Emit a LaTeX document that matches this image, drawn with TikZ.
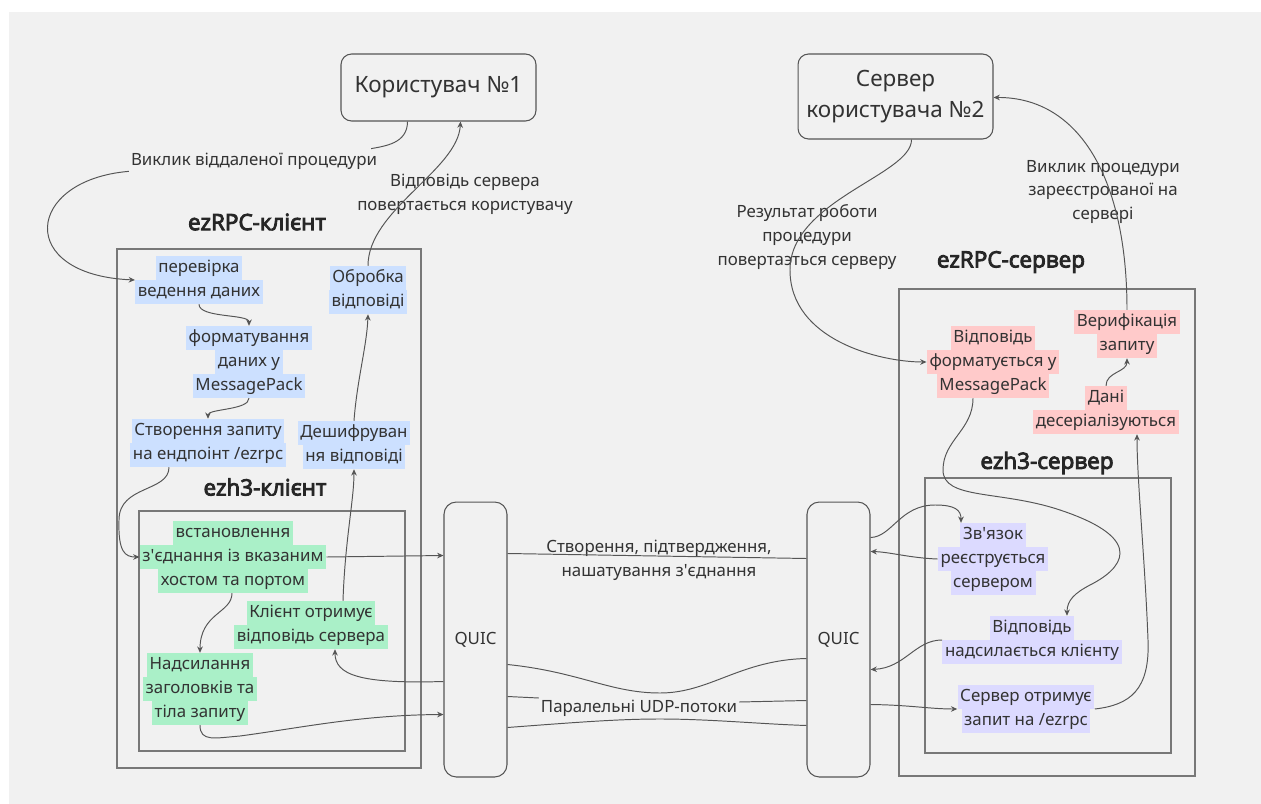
\documentclass[tikz,border=0pt]{standalone}
\usepackage{fontspec}
\setmainfont{Noto Sans}[Ligatures=TeXOff]
\newfontfamily\titlefont{Open Sans}[AutoFakeBold=4]
\usepackage{tikz}
\usetikzlibrary{arrows.meta,calc}
\usetikzlibrary{positioning}

\definecolor{bgGray}{HTML}{F1F1F1}
\definecolor{inkGray}{HTML}{333333}
\definecolor{lineGray}{HTML}{555555}
\definecolor{frameGray}{HTML}{787878}
\definecolor{cliBlue}{HTML}{CCE0FF}
\definecolor{cliGreen}{HTML}{AAF0C8}
\definecolor{srvRed}{HTML}{FFCACA}
\definecolor{srvViolet}{HTML}{DCDAFF}

\setlength{\fboxsep}{0pt}
\newcommand{\hlline}[2]{\colorbox{#1}{\strut\hspace{1.5pt}#2\hspace{1.5pt}}}
\newcommand{\hb}[1]{\hlline{cliBlue}{#1}}
\newcommand{\hg}[1]{\hlline{cliGreen}{#1}}
\newcommand{\hr}[1]{\hlline{srvRed}{#1}}
\newcommand{\hv}[1]{\hlline{srvViolet}{#1}}

\begin{document}
\begin{tikzpicture}[x=0.02cm,y=-0.02cm,>={Stealth[length=3.6pt,width=3.2pt]},
  flow/.style={draw=lineGray,line width=0.55pt},
  stepnode/.style={inner sep=0pt,align=center,text=inkGray,font=\fontsize{9.6}{13.6}\selectfont},
  edgelabel/.style={inner sep=1pt,align=center,text=inkGray,font=\fontsize{9.6}{13.6}\selectfont},
  grouptitle/.style={inner sep=0pt,text=black!85,font=\titlefont\fontsize{12.8}{15}\selectfont\bfseries},
  groupframe/.style={draw=frameGray,line width=0.8pt},
  actor/.style={draw=lineGray,line width=0.6pt,rounded corners=6pt,fill=bgGray,align=center,
    text=inkGray,minimum width=3.9cm,font=\fontsize{12.8}{17.5}\selectfont},
  transport/.style={draw=lineGray,line width=0.6pt,rounded corners=7pt,fill=bgGray,
    minimum width=1.26cm,minimum height=5.5cm,text=inkGray,font=\fontsize{9.6}{13.6}\selectfont}]

  \fill[white] (0,0) rectangle (1261,804);
  \useasboundingbox (0,0) rectangle (1261,804);
  \fill[bgGray] (9,12) rectangle (1261,804);

  % groups
  \draw[groupframe] (117,249) rectangle (421,768);
  \draw[groupframe] (139,511) rectangle (405,751);
  \draw[groupframe] (899,289) rectangle (1195,776);
  \draw[groupframe] (925,478) rectangle (1171,753);
  \node[grouptitle] (cliTitle) at (257,222) {ezRPC-клієнт};
  \node[grouptitle] (h3cTitle) at (265,487) {ezh3-клієнт};
  \node[grouptitle] (srvTitle) at (1011,262) {ezRPC-сервер};
  \node[grouptitle] (h3sTitle) at (1047,463) {ezh3-сервер};

  % actors and transport
  \node[actor,minimum height=1.34cm] (user) at (438.5,87.5) {Користувач №1};
  \node[actor,minimum height=1.7cm] (srv2) at (895.5,96.5) {Сервер\\користувача №2};
  \node[transport] (quicL) at (475.5,639.5) {QUIC};
  \node[transport] (quicR) at (838.5,639.5) {QUIC};

  % client steps
  \node[stepnode] (chk) at (199,280) {\hb{перевірка}\\\hb{ведення даних}};
  \node[stepnode] (fmt) at (249,362) {\hb{форматування}\\\hb{даних у}\\\hb{MessagePack}};
  \node[stepnode] (req) at (208,443) {\hb{Створення запиту}\\\hb{на ендпоінт /ezrpc}};
  \node[stepnode] (proc) at (368,290) {\hb{Обробка}\\\hb{відповіді}};
  \node[stepnode] (decr) at (354,445) {\hb{Дешифруван}\\\hb{ня відповіді}};
  \node[stepnode] (conn) at (233,557) {\hg{встановлення}\\\hg{з'єднання із вказаним}\\\hg{хостом та портом}};
  \node[stepnode] (recv) at (311,625) {\hg{Клієнт отримує}\\\hg{відповідь сервера}};
  \node[stepnode] (send) at (200,689) {\hg{Надсилання}\\\hg{заголовків та}\\\hg{тіла запиту}};

  % server steps
  \node[stepnode] (packR) at (993,362) {\hr{Відповідь}\\\hr{форматується у}\\\hr{MessagePack}};
  \node[stepnode] (verif) at (1127,334) {\hr{Верифікація}\\\hr{запиту}};
  \node[stepnode] (deser) at (1106,410) {\hr{Дані}\\\hr{десеріалізуються}};
  \node[stepnode] (reg) at (993,559) {\hv{Зв'язок}\\\hv{реєструється}\\\hv{сервером}};
  \node[stepnode] (reply) at (1032,640) {\hv{Відповідь}\\\hv{надсилається клієнту}};
  \node[stepnode] (getReq) at (1026,709) {\hv{Сервер отримує}\\\hv{запит на /ezrpc}};

  % edge labels
  \node[edgelabel] (callLbl) at (254,161) {Виклик віддаленої процедури};
  \node[edgelabel] (backLbl) at (465,194) {Відповідь сервера\\повертається користувачу};
  \node[edgelabel] (resLbl) at (807,237) {Результат роботи\\процедури\\повертаэться серверу};
  \node[edgelabel] (invLbl) at (1103,192) {Виклик процедури\\зареєстрованої на\\сервері};
  \node[edgelabel] (connLbl) at (659,560) {Створення, підтвердження,\\нашатування з'єднання};
  \node[edgelabel] (udpLbl) at (639,708) {Паралельні UDP-потоки};

  % client side
  \draw[flow] ($(user.south)+(-31,0)$) .. controls +(0,22) and (385,146) .. ($(callLbl.north east)+(-8,-2)$);
  \draw[flow,->] (callLbl.south west) .. controls (25,180) and (15,275) .. (chk.west);
  \draw[flow,->] (chk.south) .. controls +(0,14) and +(0,-12) .. (fmt.north);
  \draw[flow,->] (fmt.south) .. controls +(0,12) and +(0,-10) .. (req.north);
  \draw[flow,->] ($(req.south)+(-39,0)$) .. controls +(0,25) and (119,485) .. (119,520)
    .. controls (118,552) and (125,557) .. (conn.west);
  \draw[flow,->] (conn.east) -- ($(quicL.north west)+(0,54)$);
  \draw[flow,->] ($(conn.south)+(-1,0)$) .. controls +(0,20) and +(0,-40) .. (send.north);
  \draw[flow,->] (send.south) .. controls +(0,17) and (215,738) .. (240,736)
    .. controls (300,728) and (360,715) .. ($(quicL.north west)+(0,213)$);
  \draw[flow,->] ($(quicL.north west)+(0,180)$) .. controls (360,684) and (335,675) .. ($(recv.south)+(24,0)$);
  \draw[flow,->] ($(recv.north)+(32,0)$) .. controls (345,540) and (354,500) .. (decr.south);
  \draw[flow,->] (decr.north) .. controls (357,380) and (367,345) .. (proc.south);
  \draw[flow,->] (proc.north) .. controls (368,210) and (458,170) .. ($(user.south)+(22,0)$);

  % between the QUIC ends
  \draw[flow] ($(quicL.north east)+(0,52)$) -- ($(quicR.north west)+(0,57)$);
  \draw[flow] ($(quicL.north east)+(0,163)$) .. controls (580,672) and (610,693) .. (660,693)
    .. controls (710,693) and (740,660) .. ($(quicR.north west)+(0,157)$);
  \draw[flow] ($(quicL.north east)+(0,195)$) -- ($(udpLbl.west)+(0,-10)$);
  \draw[flow] ($(udpLbl.east)+(0,-6)$) -- ($(quicR.north west)+(0,199)$);
  \draw[flow] ($(quicL.north east)+(0,226)$) .. controls (580,722) and (620,719) .. (660,719)
    .. controls (710,719) and (760,724) .. ($(quicR.north west)+(0,224)$);

  % server side
  \draw[flow,->] ($(quicR.north east)+(0,36)$) .. controls (892,537) and (900,505) .. (935,505)
    .. controls (955,505) and (961,510) .. ($(reg.north)+(-32,0)$);
  \draw[flow,->] (reg.west) .. controls (910,558) and (890,552) .. ($(quicR.north east)+(0,50)$);
  \draw[flow,->] ($(packR.south)+(-20,0)$) .. controls +(0,32) and (943,440) .. (943,470)
    .. controls (943,500) and (1000,490) .. (1060,510)
    .. controls (1150,540) and (1120,570) .. (1090,585)
    .. controls (1075,593) and (1067,600) .. ($(reply.north)+(35,0)$);
  \draw[flow,->] (reply.west) .. controls (915,640) and (905,668) .. ($(quicR.north east)+(0,168)$);
  \draw[flow,->] ($(quicR.north east)+(0,203)$) .. controls (910,705) and (930,709) .. (getReq.west);
  \draw[flow,->] (getReq.east) .. controls (1130,705) and (1150,690) .. (1148,640)
    .. controls (1145,560) and (1137,480) .. ($(deser.south)+(31,0)$);
  \draw[flow,->] (deser.north) .. controls +(0,-14) and +(0,14) .. (verif.south);
  \draw[flow,->] (verif.north) .. controls (1127,180) and (1080,97) .. ($(srv2.east)+(0,1)$);
  \draw[flow,->] ($(srv2.south)+(16,0)$) .. controls (912,175) and (790,200) .. (790,270)
    .. controls (790,340) and (880,362) .. (packR.west);
\end{tikzpicture}
\end{document}
